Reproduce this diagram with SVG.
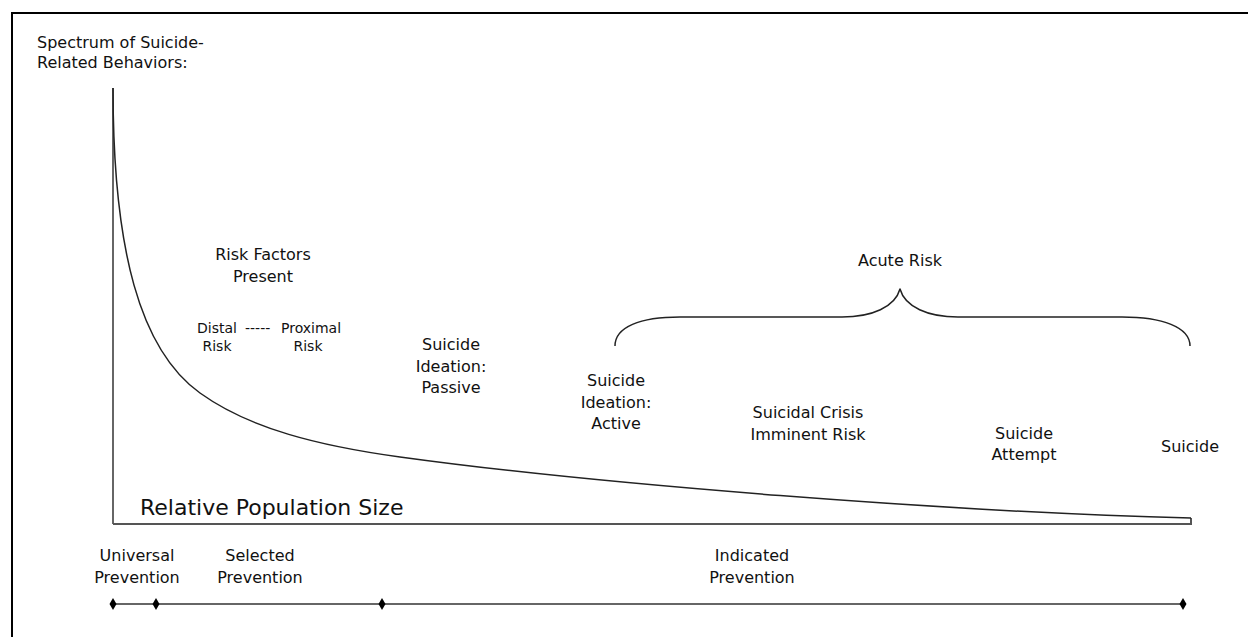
<svg xmlns="http://www.w3.org/2000/svg" width="1248" height="637" viewBox="0 0 1248 637">
<style>
  text { font-family: "DejaVu Sans", "Liberation Sans", sans-serif; fill: #111; }
  .t15 { font-size: 16px; }
  .t13 { font-size: 14px; }
  .big { font-size: 22px; }
  .c { text-anchor: middle; }
  .frame { stroke: #000; stroke-width: 2; fill: none; }
  .axis { stroke: #333; stroke-width: 1.5; fill: none; }
  .base { stroke: #555; stroke-width: 2; fill: none; }
  .curve { stroke: #222; stroke-width: 1.5; fill: none; stroke-linejoin: round; }
  .tl { stroke: #666; stroke-width: 2; fill: none; }
  .dia { fill: #000; }
</style>
<defs>
  <path id="diamond" d="M0,-6 L3.5,0 L0,6 L-3.5,0 Z"/>
</defs>
<rect width="1248" height="637" fill="#fff"/>
<path class="frame" d="M12,637 L12,13 L1248,13"/>

<g id="connectors">
  <path id="y-axis" class="axis" d="M113,88 L113,524"/>
  <path id="x-axis" class="base" d="M113,524 L1191,524 L1191,518"/>
  <path id="population-curve" class="curve" d="M113,88 C113,250 140,350 200,393 C250,429 320,446 400,457 C600,484.5 950,512 1191,518"/>
  <path id="acute-brace" class="curve" d="M615,346 C615,327 640,317 680,317 L842,317 C872,317 895,307 900,289 C905,307 928,317 958,317 L1122,317 C1162,317 1190,327 1190,346"/>
  <path id="timeline" class="tl" d="M113,604 L1183,604"/>
  <use href="#diamond" class="dia" x="113" y="604"/>
  <use href="#diamond" class="dia" x="156" y="604"/>
  <use href="#diamond" class="dia" x="382" y="604"/>
  <use href="#diamond" class="dia" x="1183" y="604"/>
</g>

<g id="title">
  <text class="t15" x="37" y="48">Spectrum of Suicide-</text>
  <text class="t15" x="37" y="68">Related Behaviors:</text>
</g>
<g id="risk-factors">
  <text class="t15 c" x="263" y="260">Risk Factors</text>
  <text class="t15 c" x="263" y="282">Present</text>
</g>
<g id="distal-proximal">
  <text class="t13" x="197" y="333">Distal</text>
  <text class="t13" x="245" y="333">-----</text>
  <text class="t13" x="281" y="333">Proximal</text>
  <text class="t13 c" x="217" y="351">Risk</text>
  <text class="t13 c" x="308" y="351">Risk</text>
</g>
<g id="ideation-passive">
  <text class="t15 c" x="451" y="350">Suicide</text>
  <text class="t15 c" x="451" y="372">Ideation:</text>
  <text class="t15 c" x="451" y="393">Passive</text>
</g>
<g id="acute-risk">
  <text class="t15 c" x="900" y="266">Acute Risk</text>
</g>
<g id="ideation-active">
  <text class="t15 c" x="616" y="386">Suicide</text>
  <text class="t15 c" x="616" y="408">Ideation:</text>
  <text class="t15 c" x="616" y="429">Active</text>
</g>
<g id="suicidal-crisis">
  <text class="t15 c" x="808" y="418">Suicidal Crisis</text>
  <text class="t15 c" x="808" y="440">Imminent Risk</text>
</g>
<g id="suicide-attempt">
  <text class="t15 c" x="1024" y="439">Suicide</text>
  <text class="t15 c" x="1024" y="460">Attempt</text>
</g>
<g id="suicide">
  <text class="t15 c" x="1190" y="452">Suicide</text>
</g>
<g id="relative-population">
  <text class="big" x="140" y="515">Relative Population Size</text>
</g>
<g id="universal-prevention">
  <text class="t15 c" x="137" y="561">Universal</text>
  <text class="t15 c" x="137" y="583">Prevention</text>
</g>
<g id="selected-prevention">
  <text class="t15 c" x="260" y="561">Selected</text>
  <text class="t15 c" x="260" y="583">Prevention</text>
</g>
<g id="indicated-prevention">
  <text class="t15 c" x="752" y="561">Indicated</text>
  <text class="t15 c" x="752" y="583">Prevention</text>
</g>
</svg>
